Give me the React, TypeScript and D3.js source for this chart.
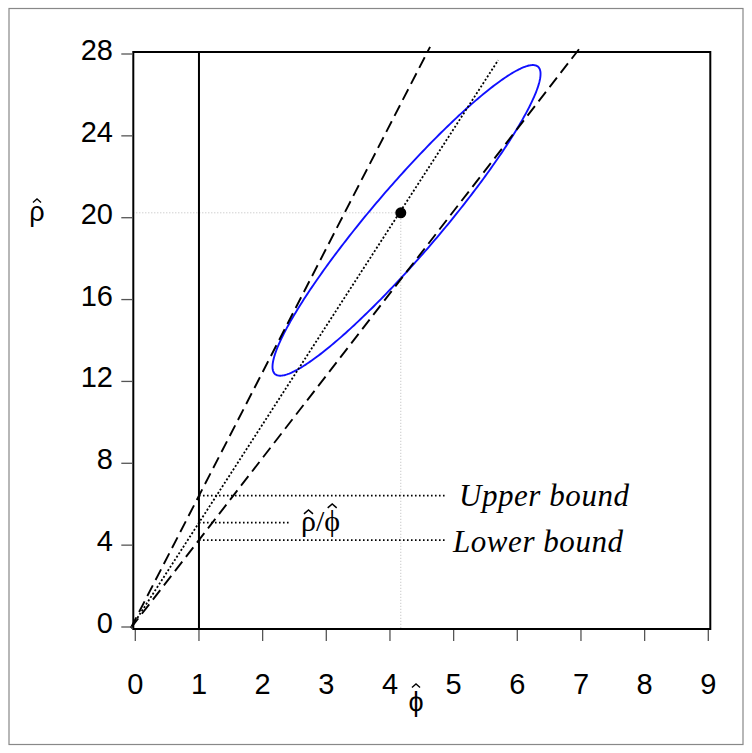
import React, { useEffect, useRef } from 'react';
import * as d3 from 'd3';

// axis ticks
const xTicks = [0, 1, 2, 3, 4, 5, 6, 7, 8, 9];
const yTicks = [0, 4, 8, 12, 16, 20, 24, 28];

// point estimate (phi_hat, rho_hat)
const estimate = [4.17, 20.24];

// confidence ellipse: center, half extents, correlation
const ellipseCenter = [4.26, 19.87];
const ellipseHalf = [2.105, 7.59];
const ellipseCorr = 0.943;

// rays from the common origin
const rayOrigin = [-0.07, -0.05];
const rayNames = ['upper', 'ratio', 'lower'];
const rayEndX = [4.63, 5.7, 7.01];
const rayEndY = [28.35, 27.7, 28.4];

const sans = 'Liberation Sans, Arial, sans-serif';
const serif = 'Liberation Serif, Times New Roman, serif';

const App = () => {
  const ref = useRef(null);

  useEffect(() => {
    draw();
  }, []);

  // text where the listed characters get a circumflex drawn over them
  const hatText = (svg, str, hats, xPos, baseline, size, family, anchor) => {
    const t = svg.append('text')
      .attr('x', xPos).attr('y', baseline)
      .attr('text-anchor', anchor)
      .attr('font-family', family).attr('font-size', size)
      .text(str);
    const node = t.node();
    hats.forEach(({ i, dy }) => {
      const b = node.getExtentOfChar(i);
      const cx = b.x + b.width / 2;
      const top = baseline + dy;
      const w = size * 0.15;
      const h = size * 0.13;
      svg.append('path')
        .attr('d', `M${cx - w},${top + h}L${cx},${top}L${cx + w},${top + h}`)
        .attr('fill', 'none').attr('stroke', 'black').attr('stroke-width', size * 0.05);
    });
  };

  const draw = () => {
    const svg = d3.select(ref.current);
    svg.selectAll('*').remove();

    const x = d3.scaleLinear().domain([0, 9]).range([135.3, 708.3]);
    const y = d3.scaleLinear().domain([0, 28]).range([627, 54]);

    // outer border
    svg.append('rect')
      .attr('x', 9).attr('y', 8.5).attr('width', 734).attr('height', 736)
      .attr('fill', 'white').attr('stroke', '#888').attr('stroke-width', 1.2);

    // crosshair to point estimate
    svg.append('line')
      .attr('x1', x(0) - 2).attr('x2', x(estimate[0]))
      .attr('y1', y(estimate[1])).attr('y2', y(estimate[1]))
      .attr('stroke', '#bbb').attr('stroke-width', 1).attr('stroke-dasharray', '1,2');
    svg.append('line')
      .attr('x1', x(estimate[0])).attr('x2', x(estimate[0]))
      .attr('y1', y(estimate[1])).attr('y2', y(0) + 2)
      .attr('stroke', '#bbb').attr('stroke-width', 1).attr('stroke-dasharray', '1,2');

    // value of each ray at phi = 1
    const atOne = (i) => {
      const s = (rayEndY[i] - rayOrigin[1]) / (rayEndX[i] - rayOrigin[0]);
      return rayOrigin[1] + s * (1 - rayOrigin[0]);
    };

    // bound guide lines
    const guides = [
      { v: atOne(0), end: 446.7 },
      { v: atOne(1), end: 290 },
      { v: atOne(2), end: 446.7 },
    ];
    svg.selectAll('line.guide')
      .data(guides)
      .enter()
      .append('line')
      .attr('class', 'guide')
      .attr('x1', x(1)).attr('x2', d => d.end)
      .attr('y1', d => y(d.v)).attr('y2', d => y(d.v))
      .attr('stroke', 'black').attr('stroke-width', 1.7).attr('stroke-dasharray', '1.6,2.4');

    // ellipse
    const ts = d3.range(0, 361).map(d => (d * Math.PI) / 180);
    const ellipse = ts.map(t => [
      ellipseCenter[0] + ellipseHalf[0] * Math.cos(t),
      ellipseCenter[1] + ellipseHalf[1] * (ellipseCorr * Math.cos(t) + Math.sqrt(1 - ellipseCorr * ellipseCorr) * Math.sin(t)),
    ]);
    svg.append('path')
      .attr('d', d3.line().x(d => x(d[0])).y(d => y(d[1]))(ellipse))
      .attr('fill', 'none').attr('stroke', '#1010ff').attr('stroke-width', 1.9);

    // rays
    rayNames.forEach((name, i) => {
      svg.append('line')
        .attr('x1', x(rayOrigin[0])).attr('y1', y(rayOrigin[1]))
        .attr('x2', x(rayEndX[i])).attr('y2', y(rayEndY[i]))
        .attr('stroke', 'black')
        .attr('stroke-width', name === 'ratio' ? 1.8 : 1.9)
        .attr('stroke-dasharray', name === 'ratio' ? '2,2' : '12,6');
    });

    // phi = 1 vertical line
    svg.append('line')
      .attr('x1', x(1)).attr('x2', x(1))
      .attr('y1', y(0) + 2).attr('y2', y(28) - 2)
      .attr('stroke', 'black').attr('stroke-width', 2);

    // point estimate
    svg.append('circle')
      .attr('cx', x(estimate[0])).attr('cy', y(estimate[1])).attr('r', 5.5)
      .attr('fill', 'black');

    // frame
    svg.append('rect')
      .attr('x', x(0) - 2).attr('y', y(28) - 2)
      .attr('width', x(9) - x(0) + 4).attr('height', y(0) - y(28) + 4)
      .attr('fill', 'none').attr('stroke', 'black').attr('stroke-width', 2);

    // x axis ticks
    svg.selectAll('line.xt')
      .data(xTicks)
      .enter()
      .append('line')
      .attr('class', 'xt')
      .attr('x1', d => x(d)).attr('x2', d => x(d))
      .attr('y1', y(0) + 3).attr('y2', y(0) + 14)
      .attr('stroke', '#555').attr('stroke-width', 1.3);
    svg.selectAll('text.xl')
      .data(xTicks)
      .enter()
      .append('text')
      .attr('class', 'xl')
      .attr('x', d => x(d)).attr('y', 694)
      .attr('text-anchor', 'middle')
      .attr('font-family', sans)
      .attr('font-size', 29)
      .text(d => d);

    // y axis ticks
    svg.selectAll('line.yt')
      .data(yTicks)
      .enter()
      .append('line')
      .attr('class', 'yt')
      .attr('x1', x(0) - 14).attr('x2', x(0) - 3)
      .attr('y1', d => y(d)).attr('y2', d => y(d))
      .attr('stroke', '#555').attr('stroke-width', 1.3);
    svg.selectAll('text.yl')
      .data(yTicks)
      .enter()
      .append('text')
      .attr('class', 'yl')
      .attr('x', 113).attr('y', d => y(d) + 6)
      .attr('text-anchor', 'end')
      .attr('font-family', sans)
      .attr('font-size', 29)
      .text(d => d);

    // axis titles
    hatText(svg, '\u03C1', [{ i: 0, dy: -22 }], 37, 221, 27, sans, 'middle');
    hatText(svg, '\u03D5', [{ i: 0, dy: -27 }], 416, 711, 27, sans, 'middle');

    // annotations
    svg.append('text')
      .attr('x', 459).attr('y', 506)
      .attr('font-family', serif).attr('font-style', 'italic').attr('font-size', 31)
      .attr('textLength', 170).attr('lengthAdjust', 'spacing')
      .text('Upper bound');
    svg.append('text')
      .attr('x', 453).attr('y', 552)
      .attr('font-family', serif).attr('font-style', 'italic').attr('font-size', 31)
      .attr('textLength', 170).attr('lengthAdjust', 'spacing')
      .text('Lower bound');

    // rho_hat / phi_hat label
    hatText(svg, '\u03C1/\u03D5', [{ i: 0, dy: -21 }, { i: 2, dy: -27 }], 301, 531, 30, serif, 'start');
  };

  return (
    <svg ref={ref} width={752} height={753} style={{ position: 'absolute', left: 0, top: 0 }} />
  );
};

export default App;
